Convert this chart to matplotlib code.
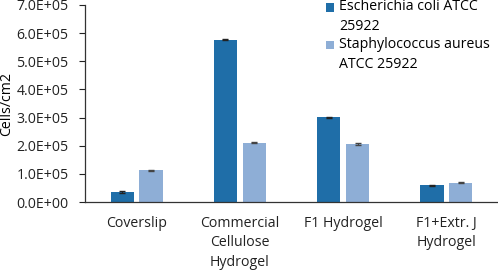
import matplotlib
matplotlib.use('Agg')
import matplotlib.pyplot as plt
import numpy as np

plt.rcParams['font.family'] = ['Open Sans', 'DejaVu Sans']

categorias = ['Coverslip', 'Commercial\nCellulose\nHydrogel', 'F1 Hydrogel', 'F1+Extr. J\nHydrogel']
series = ['Escherichia coli ATCC\n25922', 'Staphylococcus aureus\nATCC 25922']
ecoli = [3.5e4, 5.77e5, 3.01e5, 5.9e4]
ecoli_err = [2.5e3, 2.5e3, 2.5e3, 2.5e3]
saureus = [1.13e5, 2.11e5, 2.06e5, 6.8e4]
saureus_err = [2.0e3, 2.0e3, 2.0e3, 2.0e3]
yticks = np.arange(0, 7.5e5, 1e5)

COR_EC = '#1f6ea8'
COR_SA = '#8eaed6'
FS = 10.2

fig = plt.figure(figsize=(4.98, 2.72), dpi=100)
ax = fig.add_axes([85/498, 1 - 202/272, 1 - 85/498, 197/272])

x = np.arange(len(categorias))
w = 0.225
ax.bar(x - 0.14, ecoli, w, color=COR_EC, label=series[0],
       yerr=ecoli_err, capsize=2.5, error_kw=dict(lw=0.8, capthick=1.0, ecolor='#222222'))
ax.bar(x + 0.14, saureus, w, color=COR_SA, label=series[1],
       yerr=saureus_err, capsize=2.5, error_kw=dict(lw=0.8, capthick=1.0, ecolor='#444444'))

ax.set_xlim(-0.5, 3.5)
ax.set_ylim(0, 7e5)
ax.set_yticks(yticks)
ax.set_yticklabels(['%.1fE+%02d' % (v / 1e5, 5) if v > 0 else '0.0E+00' for v in yticks])
ax.set_xticks(x)
ax.set_xticklabels(categorias, linespacing=1.4)
ax.tick_params(axis='x', length=0, pad=10, labelsize=FS, colors='#222222')
ax.tick_params(axis='y', length=4, width=0.8, labelsize=FS, colors='#222222', pad=8)
ax.set_ylabel('Cells/cm2', fontsize=FS)
ax.yaxis.set_label_coords(-0.172, 0.5)
for lado in ['top', 'right']:
    ax.spines[lado].set_visible(False)
for lado in ['left', 'bottom']:
    ax.spines[lado].set_color('#333333')
    ax.spines[lado].set_linewidth(0.9)

leg = ax.legend(loc='upper left', bbox_to_anchor=(0.57, 1.06), frameon=False,
                fontsize=FS, handlelength=0.55, handleheight=0.55, handletextpad=0.35,
                labelspacing=0.2, borderaxespad=0)
for t in leg.get_texts():
    t.set_linespacing(1.45)
# quadradinho alinhado com a primeira linha do rótulo
for p in leg.get_patches():
    p.set_y(p.get_y() + 6.8)

fig.savefig('out.png', dpi=100)
